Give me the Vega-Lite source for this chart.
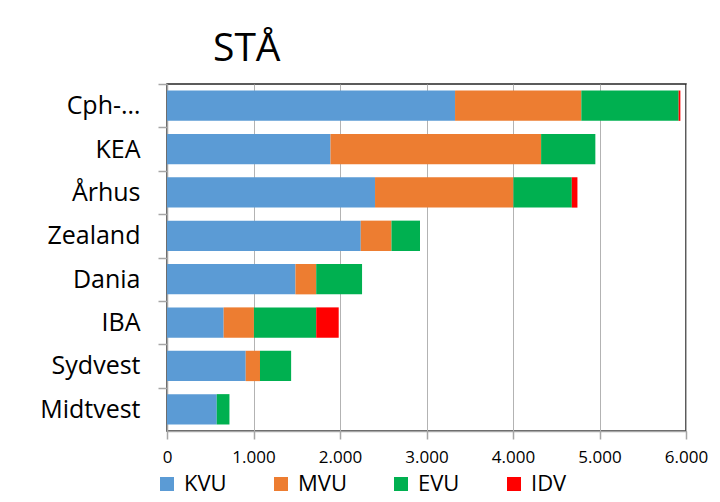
{
  "$schema": "https://vega.github.io/schema/vega-lite/v6.json",
  "width": 519,
  "height": 347,
  "autosize": {"type": "none"},
  "padding": {"left": 167, "top": 84, "right": 34, "bottom": 71},
  "background": "white",
  "config": {
    "font": "Open Sans",
    "view": {"stroke": "#262626", "strokeWidth": 1.5}
  },
  "title": {
    "text": "STÅ",
    "anchor": "start",
    "frame": "group",
    "dx": 46,
    "offset": 14,
    "fontSize": 39,
    "font": "Open Sans",
    "fontWeight": "normal",
    "color": "black"
  },
  "data": {
    "values": [
      {"skole": "Cph-…", "type": "KVU", "ord": 1, "stå": 3330},
      {"skole": "Cph-…", "type": "MVU", "ord": 2, "stå": 1460},
      {"skole": "Cph-…", "type": "EVU", "ord": 3, "stå": 1125},
      {"skole": "Cph-…", "type": "IDV", "ord": 4, "stå": 20},
      {"skole": "KEA", "type": "KVU", "ord": 1, "stå": 1890},
      {"skole": "KEA", "type": "MVU", "ord": 2, "stå": 2435},
      {"skole": "KEA", "type": "EVU", "ord": 3, "stå": 627},
      {"skole": "KEA", "type": "IDV", "ord": 4, "stå": 0},
      {"skole": "Århus", "type": "KVU", "ord": 1, "stå": 2405},
      {"skole": "Århus", "type": "MVU", "ord": 2, "stå": 1600},
      {"skole": "Århus", "type": "EVU", "ord": 3, "stå": 675},
      {"skole": "Århus", "type": "IDV", "ord": 4, "stå": 65},
      {"skole": "Zealand", "type": "KVU", "ord": 1, "stå": 2240},
      {"skole": "Zealand", "type": "MVU", "ord": 2, "stå": 355},
      {"skole": "Zealand", "type": "EVU", "ord": 3, "stå": 330},
      {"skole": "Zealand", "type": "IDV", "ord": 4, "stå": 0},
      {"skole": "Dania", "type": "KVU", "ord": 1, "stå": 1485},
      {"skole": "Dania", "type": "MVU", "ord": 2, "stå": 240},
      {"skole": "Dania", "type": "EVU", "ord": 3, "stå": 530},
      {"skole": "Dania", "type": "IDV", "ord": 4, "stå": 0},
      {"skole": "IBA", "type": "KVU", "ord": 1, "stå": 655},
      {"skole": "IBA", "type": "MVU", "ord": 2, "stå": 350},
      {"skole": "IBA", "type": "EVU", "ord": 3, "stå": 720},
      {"skole": "IBA", "type": "IDV", "ord": 4, "stå": 260},
      {"skole": "Sydvest", "type": "KVU", "ord": 1, "stå": 910},
      {"skole": "Sydvest", "type": "MVU", "ord": 2, "stå": 165},
      {"skole": "Sydvest", "type": "EVU", "ord": 3, "stå": 360},
      {"skole": "Sydvest", "type": "IDV", "ord": 4, "stå": 0},
      {"skole": "Midtvest", "type": "KVU", "ord": 1, "stå": 575},
      {"skole": "Midtvest", "type": "MVU", "ord": 2, "stå": 0},
      {"skole": "Midtvest", "type": "EVU", "ord": 3, "stå": 147},
      {"skole": "Midtvest", "type": "IDV", "ord": 4, "stå": 0}
    ]
  },
  "mark": {"type": "bar"},
  "encoding": {
    "y": {
      "field": "skole",
      "type": "nominal",
      "sort": ["Cph-…", "KEA", "Århus", "Zealand", "Dania", "IBA", "Sydvest", "Midtvest"],
      "scale": {"paddingInner": 0.3, "paddingOuter": 0.15},
      "axis": {
        "title": null,
        "labelFont": "Open Sans",
        "labelFontSize": 25,
        "labelColor": "black",
        "labelPadding": 18,
        "labelLimit": 300,
        "tickSize": 9,
        "bandPosition": 0,
        "tickOffset": -6.5,
        "labelOffset": 6.5,
        "tickColor": "#a6a6a6",
        "tickWidth": 1.5,
        "domainColor": "#a6a6a6",
        "domainWidth": 1.5,
        "grid": false
      }
    },
    "x": {
      "field": "stå",
      "type": "quantitative",
      "stack": "zero",
      "scale": {"domain": [0, 6000], "nice": false},
      "axis": {
        "title": null,
        "values": [0, 1000, 2000, 3000, 4000, 5000, 6000],
        "labelExpr": "replace(format(datum.value, ','), ',', '.')",
        "labelFont": "Open Sans",
        "labelFontSize": 17,
        "labelColor": "black",
        "labelFlush": false,
        "labelPadding": 10,
        "tickSize": 8,
        "tickColor": "#a6a6a6",
        "tickWidth": 1.5,
        "domainColor": "#a6a6a6",
        "domainWidth": 1.5,
        "grid": true,
        "gridColor": "#b3b3b3",
        "gridWidth": 1
      }
    },
    "color": {
      "field": "type",
      "type": "nominal",
      "scale": {
        "domain": ["KVU", "MVU", "EVU", "IDV"],
        "range": ["#5B9BD5", "#ED7D31", "#00B050", "#FF0000"]
      },
      "legend": {
        "orient": "none",
        "legendX": -11,
        "legendY": 389,
        "direction": "horizontal",
        "title": null,
        "symbolType": "square",
        "symbolSize": 196,
        "symbolStrokeWidth": 0,
        "symbolOpacity": 1,
        "labelFont": "Open Sans",
        "labelFontSize": 22,
        "labelColor": "black",
        "labelOffset": 6,
        "columnPadding": 43
      }
    },
    "order": {"field": "ord", "type": "quantitative"}
  }
}
